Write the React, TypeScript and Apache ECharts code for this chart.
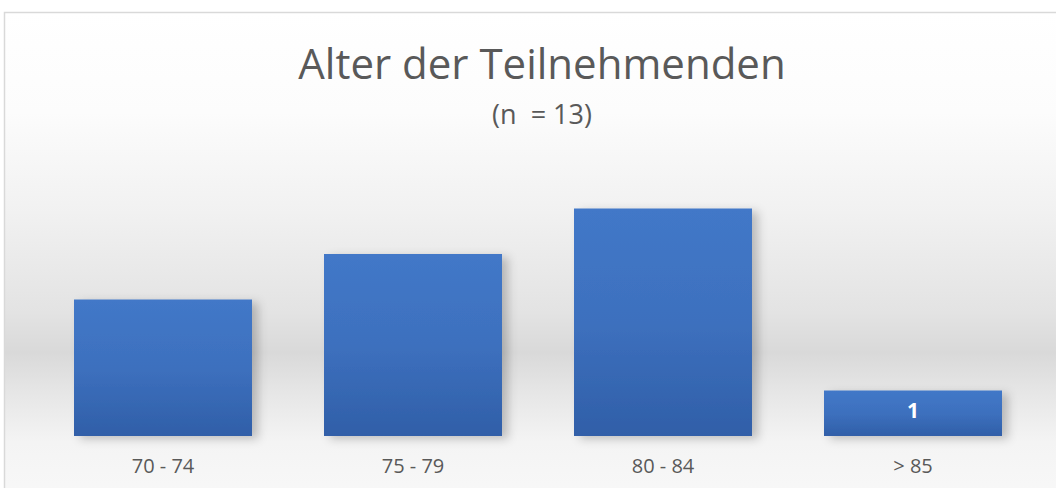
import React, { useEffect, useRef } from "react";
import * as echarts from "echarts";

const categories = ["70 - 74", "75 - 79", "80 - 84", "> 85"];
const counts = [3, 4, 5, 1];
const labelledIndex = [3];
const titleText = "Alter der Teilnehmenden";
const subtitleText = "(n  = 13)";

export default function App() {
  const ref = useRef<HTMLDivElement>(null);
  useEffect(() => {
    const chart = echarts.init(ref.current!, null, { renderer: "svg" });
    const font = "'Open Sans', sans-serif";
    chart.setOption({
      animation: false,
      graphic: [
        {
          type: "rect",
          z: -10,
          shape: { x: 4.5, y: 12.5, width: 1070, height: 500 },
          style: {
            stroke: "#d9d9d9",
            lineWidth: 1.5,
            fill: new echarts.graphic.LinearGradient(0, 0, 0, 1, [
              { offset: 0, color: "#ffffff" },
              { offset: 0.2, color: "#fcfcfc" },
              { offset: 0.4, color: "#f1f1f1" },
              { offset: 0.6, color: "#e3e3e3" },
              { offset: 0.68, color: "#d9d9d9" },
              { offset: 0.76, color: "#e6e6e6" },
              { offset: 0.86, color: "#f4f4f4" },
              { offset: 1, color: "#f9f9f9" },
            ]),
          },
        },
      ],
      title: [
        {
          text: titleText,
          left: 537,
          textAlign: "center",
          top: 36,
          textStyle: { fontFamily: font, fontSize: 42, fontWeight: "normal", color: "#595959" },
        },
        {
          text: subtitleText,
          left: 537,
          textAlign: "center",
          top: 95,
          textStyle: { fontFamily: font, fontSize: 27, fontWeight: "normal", color: "#595959" },
        },
      ],
      grid: { left: 38, right: 18, top: 163, bottom: 52, containLabel: false },
      xAxis: {
        type: "category",
        data: categories,
        axisLine: { show: false },
        axisTick: { show: false },
        axisLabel: { fontFamily: font, fontSize: 20, color: "#595959", margin: 19 },
      },
      yAxis: {
        type: "value",
        min: 0,
        max: 6,
        interval: 1,
        show: false,
        splitLine: { show: false },
      },
      series: [
        {
          type: "bar",
          barCategoryGap: "28.8%",
          data: counts.map((v, i) => ({
            value: v,
            label: {
              show: labelledIndex.includes(i),
              position: "inside",
              offset: [0, -3],
              color: "#ffffff",
              fontFamily: font,
              fontWeight: "bold",
              fontSize: 21,
            },
          })),
          itemStyle: {
            color: new echarts.graphic.LinearGradient(0, 0, 0, 1, [
              { offset: 0, color: "#4278c8" },
              { offset: 0.5, color: "#3d70be" },
              { offset: 1, color: "#305fa8" },
            ]),
            shadowColor: "rgba(0,0,0,0.22)",
            shadowBlur: 10,
            shadowOffsetX: 6,
            shadowOffsetY: 3,
          },
        },
      ],
    });
    return () => chart.dispose();
  }, []);
  return (
    <div
      ref={ref}
      style={{ position: "fixed", left: 0, top: 0, width: 1056, height: 488, background: "#ffffff" }}
    />
  );
}
